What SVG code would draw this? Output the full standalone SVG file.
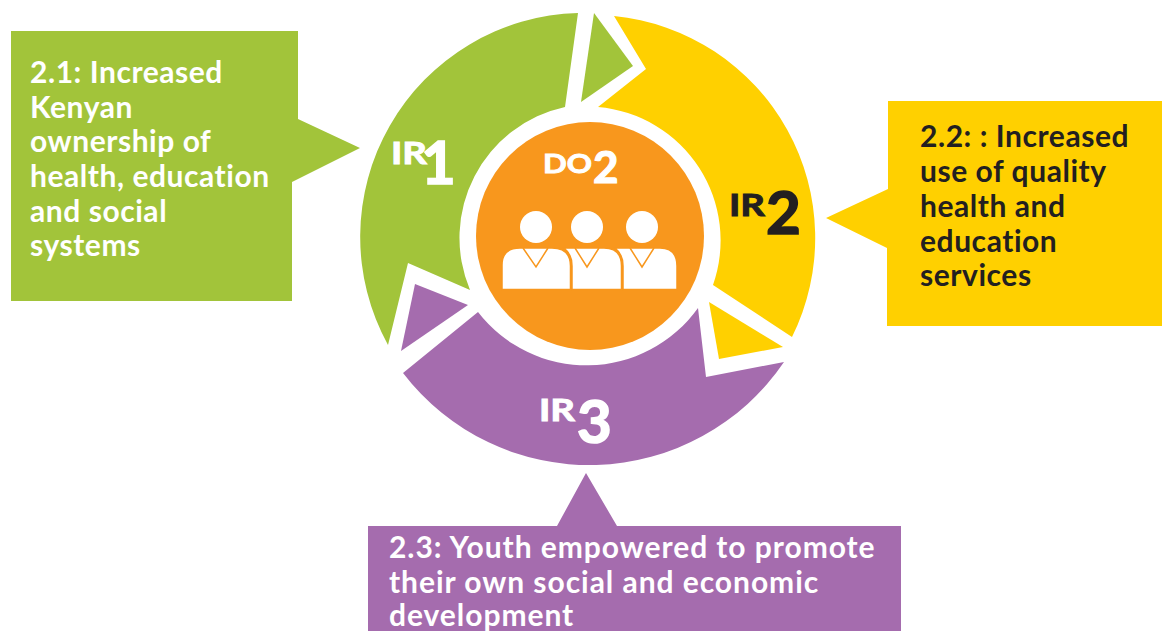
<svg xmlns="http://www.w3.org/2000/svg" width="1162" height="631" viewBox="0 0 1162 631">
<style>
.g{fill:#a2c43a}.y{fill:#ffd000}.p{fill:#a56cae}.o{fill:#f8971d}.w{fill:#fff}
text{font-family:"Lato","Liberation Sans",sans-serif;font-weight:700}
.c{font-size:30px;letter-spacing:.55px}
.wide{letter-spacing:.95px}
.lw{fill:#fff;stroke:#fff}.ld{fill:#231f20;stroke:#231f20}
.ir{font-size:30px;stroke-width:.9px}
.n{font-size:60px;stroke-width:1.600px}
.body{fill:#fff;stroke:#f8971d;stroke-width:1.500px}
.v{fill:none;stroke:#f8971d;stroke-width:1.500px}
</style>
<rect width="1162" height="631" fill="#fff"/>
<g id="callout-2-1">
<path class="g" d="M11 31H298V119L360 148L292 182V301H11Z"/>
<text class="c" fill="#fff"><tspan x="30" y="83">2.1: Increased</tspan><tspan x="30" y="118">Kenyan</tspan><tspan x="30" y="152">ownership of</tspan><tspan x="30" y="187">health, education</tspan><tspan x="30" y="222">and social</tspan><tspan x="30" y="256">systems</tspan></text>
</g>
<g id="callout-2-2">
<path class="y" d="M888 101H1162V326H887V248L826 218L888 189Z"/>
<text class="c" fill="#231f20"><tspan x="920" y="147">2.2: : Increased</tspan><tspan x="920" y="182">use of quality</tspan><tspan x="920" y="217">health and</tspan><tspan x="920" y="252">education</tspan><tspan x="920" y="286">services</tspan></text>
</g>
<g id="callout-2-3">
<path class="p" d="M368 526H557L586 473L617 526H901V631H368Z"/>
<text class="c wide" fill="#fff"><tspan x="389" y="558">2.3: Youth empowered to promote</tspan><tspan x="389" y="593">their own social and economic</tspan><tspan x="389" y="626">development</tspan></text>
</g>
<g id="ir1">
<path class="g" d="M578 13A224 224 0 0 0 388 345L408 263L470 290A134 134 0 0 1 565 107Z"/>
<path class="g" d="M594 13L633 66L581 102Z"/>
<text class="ir lw" x="391" y="164" textLength="36" lengthAdjust="spacingAndGlyphs">IR</text><text class="n lw" x="421" y="184">1</text>
</g>
<g id="ir2">
<path class="y" d="M614 16A223 223 0 0 1 792 337L713 285A134 134 0 0 0 598 107L646 69Z"/>
<path class="y" d="M709 302L783 347L719 359Z"/>
<text class="ir ld" x="729" y="216" textLength="36" lengthAdjust="spacingAndGlyphs">IR</text><text class="n ld" x="766" y="234">2</text>
</g>
<g id="ir3">
<path class="p" d="M403 373L478 312A137 137 0 0 0 698 308L706 377L784 362A235 235 0 0 1 403 373Z"/>
<path class="p" d="M415 284L468 305L401 351Z"/>
<text class="ir lw" x="539" y="421" textLength="36" lengthAdjust="spacingAndGlyphs">IR</text><text class="n lw" x="577" y="443">3</text>
</g>
<g id="do2">
<circle class="o" cx="590" cy="236" r="114"/>
<text class="lw" x="543" y="173" font-size="27" stroke-width=".9" textLength="49" lengthAdjust="spacingAndGlyphs">DO</text><text class="lw" x="593" y="183" font-size="44" stroke-width="1.200">2</text>
<circle class="w" cx="536" cy="227" r="16"/><circle class="w" cx="587" cy="227" r="16"/><circle class="w" cx="642" cy="227" r="16"/>
<path class="body" d="M623 289.500V266Q623 254 615 248H660Q677 248 677 266V289.500Z"/>
<path class="body" d="M572 289.500V266Q572 254 564 248H604Q621.500 248 621.500 266V289.500Z"/>
<path class="body" d="M502 289.500V265Q502 248 520 248H552Q570.500 248 570.500 266V289.500Z"/>
<path class="v" d="M523 248L536 267L548 248"/>
<path class="v" d="M575 248L587 267L599 248"/>
<path class="v" d="M630 248L642 267L654 248"/>
</g>
</svg>
